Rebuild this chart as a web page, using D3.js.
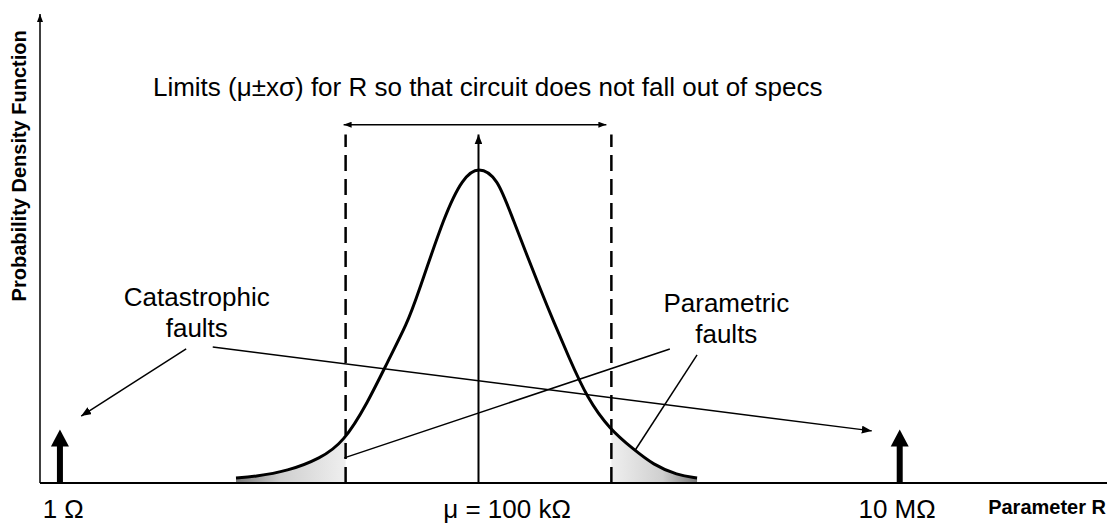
<!DOCTYPE html>
<html>
<head>
<meta charset="utf-8">
<script src="https://cdn.jsdelivr.net/npm/d3@7"></script>
<style>
  body { margin: 0; background: #fff; }
  text { font-family: Arial, "Liberation Sans", sans-serif; fill: #000; }
</style>
</head>
<body>
<div id="chart"></div>
<script>
// x in units of sigma around the mean (mu = 0), y = density, peak normalised to 1
const curveX = [-3.65, -3.38, -2.87, -2.38, -2.03, -1.67, -1.37, -1.07, -0.93, -0.5, -0.24, 0, 0.29, 0.48, 0.98, 1.13, 1.35, 1.64, 1.98, 2.33, 2.63, 2.99, 3.29];
const curveY = [0.016, 0.02, 0.038, 0.078, 0.13, 0.255, 0.385, 0.51, 0.59, 0.86, 0.97, 1.01, 0.97, 0.86, 0.59, 0.515, 0.405, 0.268, 0.17, 0.108, 0.058, 0.025, 0.016];

const limits = [-2, 2];                  // mu +/- x*sigma
const impulseX = [-6.3, 6.34];           // catastrophic faults: 1 ohm and 10 Mohm
const impulseH = 0.17;
const tickLabels = ["1 Ω", "μ = 100 kΩ", "10 MΩ"];
const tickX = [-6.25, 0.43, 6.3];

const title = "Limits (μ±xσ) for R so that circuit does not fall out of specs";
const xTitle = "Parameter R";
const yTitle = "Probability Density Function";

const width = 1107, height = 526;

const x = d3.scaleLinear().domain([-6.6, 9.46]).range([40, 1107]);
const y = d3.scaleLinear().domain([0, 1.5]).range([483, 12]);

const svg = d3.select("#chart").append("svg")
    .attr("width", width)
    .attr("height", height);

const defs = svg.append("defs");

function arrowMarker(id, w, h) {
    defs.append("marker")
        .attr("id", id)
        .attr("viewBox", `0 0 ${h} ${w}`)
        .attr("refX", h).attr("refY", w / 2)
        .attr("markerWidth", h).attr("markerHeight", w)
        .attr("markerUnits", "userSpaceOnUse")
        .attr("orient", "auto-start-reverse")
        .append("path")
        .attr("d", `M0,0 L${h},${w / 2} L0,${w} Z`)
        .attr("fill", "#000");
}
arrowMarker("arr", 8, 10);
arrowMarker("arrSmall", 6, 8);

const xFirst = curveX[0], xLast = curveX[curveX.length - 1];

const gradL = defs.append("linearGradient").attr("id", "tailL")
    .attr("gradientUnits", "userSpaceOnUse")
    .attr("x1", x(xFirst)).attr("x2", x(limits[0])).attr("y1", 0).attr("y2", 0);
gradL.append("stop").attr("offset", 0).attr("stop-color", "#7a7a7a");
gradL.append("stop").attr("offset", 0.4).attr("stop-color", "#cfcfcf");
gradL.append("stop").attr("offset", 1).attr("stop-color", "#efefef");
const gradR = defs.append("linearGradient").attr("id", "tailR")
    .attr("gradientUnits", "userSpaceOnUse")
    .attr("x1", x(limits[1])).attr("x2", x(xLast)).attr("y1", 0).attr("y2", 0);
gradR.append("stop").attr("offset", 0).attr("stop-color", "#efefef");
gradR.append("stop").attr("offset", 0.6).attr("stop-color", "#cfcfcf");
gradR.append("stop").attr("offset", 1).attr("stop-color", "#7a7a7a");

defs.append("clipPath").attr("id", "clipL").append("rect")
    .attr("x", 0).attr("y", 0).attr("width", x(limits[0])).attr("height", height);
defs.append("clipPath").attr("id", "clipR").append("rect")
    .attr("x", x(limits[1])).attr("y", 0).attr("width", width - x(limits[1])).attr("height", height);

const pts = curveX.map((d, i) => [d, curveY[i]]);
const smooth = d3.curveBasis;

// shaded tails
const area = d3.area()
    .x(d => x(d[0]))
    .y0(y(0))
    .y1(d => y(d[1]))
    .curve(smooth);

svg.append("path").datum(pts).attr("d", area)
    .attr("fill", "url(#tailL)").attr("clip-path", "url(#clipL)");
svg.append("path").datum(pts).attr("d", area)
    .attr("fill", "url(#tailR)").attr("clip-path", "url(#clipR)");

// axes
svg.append("line")
    .attr("x1", x.range()[0]).attr("x2", x.range()[1])
    .attr("y1", y(0)).attr("y2", y(0))
    .attr("stroke", "#000").attr("stroke-width", 2);
svg.append("line")
    .attr("x1", x.range()[0]).attr("x2", x.range()[0])
    .attr("y1", y(0)).attr("y2", y.range()[1] + 2)
    .attr("stroke", "#000").attr("stroke-width", 1.5)
    .attr("marker-end", "url(#arrSmall)");

// limit lines
svg.selectAll(".limit").data(limits).enter().append("line")
    .attr("class", "limit")
    .attr("x1", d => x(d)).attr("x2", d => x(d))
    .attr("y1", y(0)).attr("y2", y(1.11))
    .attr("stroke", "#000").attr("stroke-width", 2.5)
    .attr("stroke-dasharray", "16,8");

// limits double arrow
svg.append("line")
    .attr("x1", x(limits[0]) - 2).attr("x2", x(limits[1]) - 5)
    .attr("y1", y(1.141)).attr("y2", y(1.141))
    .attr("stroke", "#000").attr("stroke-width", 1.5)
    .attr("marker-start", "url(#arrSmall)")
    .attr("marker-end", "url(#arrSmall)");

// mean line
svg.append("line")
    .attr("x1", x(0)).attr("x2", x(0))
    .attr("y1", y(0)).attr("y2", y(1.11))
    .attr("stroke", "#000").attr("stroke-width", 2)
    .attr("marker-end", "url(#arr)");

// the pdf curve
svg.append("path").datum(pts)
    .attr("d", d3.line().x(d => x(d[0])).y(d => y(d[1])).curve(smooth))
    .attr("fill", "none").attr("stroke", "#000").attr("stroke-width", 3);

// catastrophic impulses
const headH = 17, headW = 18;
const imp = svg.selectAll(".impulse").data(impulseX).enter().append("g").attr("class", "impulse");
imp.append("rect")
    .attr("x", d => x(d) - 3).attr("width", 6)
    .attr("y", y(impulseH) + headH - 1).attr("height", y(0) - y(impulseH) - headH + 1)
    .attr("fill", "#000");
imp.append("path")
    .attr("d", d => `M${x(d)},${y(impulseH)} L${x(d) + headW / 2},${y(impulseH) + headH} L${x(d) - headW / 2},${y(impulseH) + headH} Z`)
    .attr("fill", "#000");

// annotation pointers (data units)
const pointers = [
    { from: [-4.40, 0.427], to: [-5.98, 0.213], arrow: true },
    { from: [-4.00, 0.433], to: [5.92, 0.166], arrow: true },
    { from: [2.88, 0.427], to: [-2.02, 0.080], arrow: false },
    { from: [3.29, 0.408], to: [2.36, 0.105], arrow: false }
];
svg.selectAll(".pointer").data(pointers).enter().append("line")
    .attr("class", "pointer")
    .attr("x1", d => x(d.from[0])).attr("y1", d => y(d.from[1]))
    .attr("x2", d => x(d.to[0])).attr("y2", d => y(d.to[1]))
    .attr("stroke", "#000").attr("stroke-width", 1.5)
    .attr("marker-end", d => d.arrow ? "url(#arr)" : null);

const notes = [
    { lines: ["Catastrophic", "faults"], x: -4.24, y: [0.564, 0.465] },
    { lines: ["Parametric", "faults"], x: 3.73, y: [0.545, 0.446] }
];
notes.forEach(n => {
    svg.append("g").selectAll("text").data(n.lines).enter().append("text")
        .attr("x", x(n.x))
        .attr("y", (d, i) => y(n.y[i]))
        .attr("text-anchor", "middle")
        .style("font-size", "26px")
        .text(d => d);
});

// title
svg.append("text")
    .attr("x", x(-4.9)).attr("y", y(1.232))
    .style("font-size", "26px")
    .text(title);

// tick labels
svg.selectAll(".tick").data(tickLabels).enter().append("text")
    .attr("class", "tick")
    .attr("x", (d, i) => x(tickX[i]))
    .attr("y", 518)
    .attr("text-anchor", "middle")
    .style("font-size", "26px")
    .text(d => d);

svg.append("text")
    .attr("x", 1106).attr("y", 514)
    .attr("text-anchor", "end")
    .style("font-size", "20px").style("font-weight", "bold")
    .text(xTitle);

svg.append("text")
    .attr("transform", `translate(26,${y(1.01)}) rotate(-90)`)
    .attr("text-anchor", "middle")
    .style("font-size", "20px").style("font-weight", "bold")
    .text(yTitle);
</script>
</body>
</html>
